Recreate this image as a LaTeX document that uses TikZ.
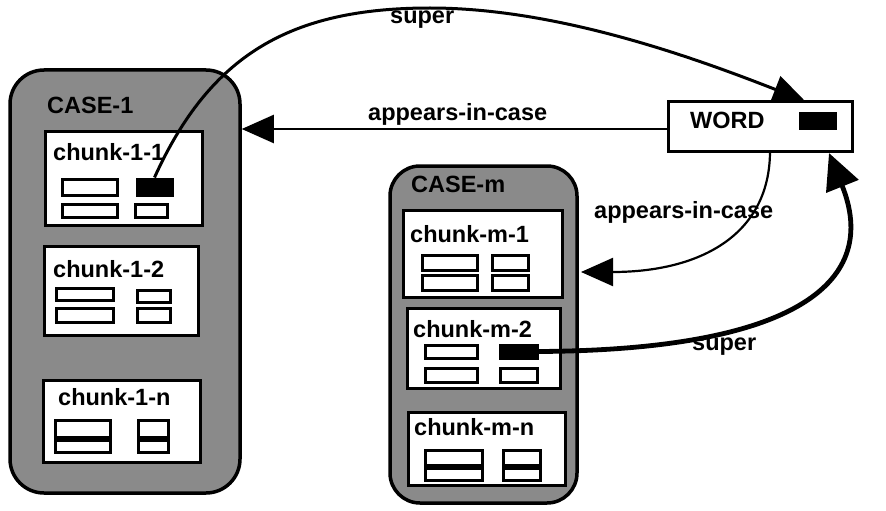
\documentclass[tikz,border=0pt]{standalone}
\usepackage{fontspec}
\setmainfont{Liberation Sans}
\usetikzlibrary{arrows.meta}
\tikzset{
  casebox/.style={draw, line width=3.5pt, fill=black!46, rounded corners=34pt},
  chunkbox/.style={draw, line width=3pt, fill=white, inner sep=0pt},
  slot/.style={draw, line width=3pt, fill=white, inner sep=0pt},
  fullslot/.style={slot, fill=black},
  lbl/.style={font=\bfseries\fontsize{23.5}{26}\selectfont, inner sep=0pt, anchor=base west},
  link/.style={line width=2.2pt, -{Triangle[length=32pt,width=28pt]}},
}
\begin{document}
\begin{tikzpicture}[x=1pt,y=-1pt]
      \useasboundingbox (0,0) rectangle (886,511);
      \draw
        (125,281.5) node[casebox, minimum width=230pt, minimum height=423pt] (case1) {}
        (483.5,334.5) node[casebox, rounded corners=30pt, minimum width=187pt, minimum height=337pt] (casem) {}
        (760,126) node[chunkbox, minimum width=184pt, minimum height=50pt] (word) {}
        (47,113) node[lbl] (case1lbl) {CASE-1}
        (411,192) node[lbl] (casemlbl) {CASE-m}
        (690,128) node[lbl] (wordlbl) {WORD}
        (817.5,120.5) node[fullslot, minimum width=35pt, minimum height=15pt] (wslot) {};
      % chunks of CASE-1
      \draw
        (123.5,178) node[chunkbox, minimum width=157pt, minimum height=94pt] (c11) {}
        (121,290.5) node[chunkbox, minimum width=154pt, minimum height=89pt] (c12) {}
        (121.5,421) node[chunkbox, minimum width=157pt, minimum height=82pt] (c1n) {}
        (53,160) node[lbl] (c11lbl) {chunk-1-1}
        (53,277) node[lbl] (c12lbl) {chunk-1-2}
        (58,405) node[lbl] (c1nlbl) {chunk-1-n}
        (89.5,187) node[slot, minimum width=55pt, minimum height=16pt] (s11a) {}
        (154.5,187) node[fullslot, minimum width=35pt, minimum height=16pt] (s11b) {}
        (89.5,210.5) node[slot, minimum width=55pt, minimum height=13pt] (s11c) {}
        (151,210.5) node[slot, minimum width=32pt, minimum height=13pt] (s11d) {}
        (84.5,294.5) node[slot, minimum width=57pt, minimum height=12pt] (s12a) {}
        (153.5,296) node[slot, minimum width=33pt, minimum height=12pt] (s12b) {}
        (84.5,315) node[slot, minimum width=57pt, minimum height=14pt] (s12c) {}
        (153.5,315) node[slot, minimum width=33pt, minimum height=14pt] (s12d) {}
        (82.5,428.5) node[slot, minimum width=55pt, minimum height=17pt] (s1na) {}
        (153,428.5) node[slot, minimum width=30pt, minimum height=17pt] (s1nb) {}
        (82.5,446) node[slot, minimum width=55pt, minimum height=12pt] (s1nc) {}
        (153,446) node[slot, minimum width=30pt, minimum height=12pt] (s1nd) {};
      % chunks of CASE-m
      \draw
        (482.5,253.5) node[chunkbox, minimum width=159pt, minimum height=87pt] (cm1) {}
        (483.5,348) node[chunkbox, minimum width=153pt, minimum height=80pt] (cm2) {}
        (486.5,448.5) node[chunkbox, minimum width=157pt, minimum height=73pt] (cmn) {}
        (410,242) node[lbl] (cm1lbl) {chunk-m-1}
        (413,337) node[lbl] (cm2lbl) {chunk-m-2}
        (414,435) node[lbl] (cmnlbl) {chunk-m-n}
        (449.5,262.5) node[slot, minimum width=55pt, minimum height=15pt] (sm1a) {}
        (510,262.5) node[slot, minimum width=36pt, minimum height=15pt] (sm1b) {}
        (449.5,282.5) node[slot, minimum width=55pt, minimum height=15pt] (sm1c) {}
        (510,282.5) node[slot, minimum width=36pt, minimum height=15pt] (sm1d) {}
        (451,351.5) node[slot, minimum width=52pt, minimum height=13pt] (sm2a) {}
        (518.5,351.5) node[fullslot, minimum width=37pt, minimum height=13pt] (sm2b) {}
        (451,375) node[slot, minimum width=52pt, minimum height=14pt] (sm2c) {}
        (518.5,375) node[slot, minimum width=37pt, minimum height=14pt] (sm2d) {}
        (453.5,457.5) node[slot, minimum width=57pt, minimum height=15pt] (smna) {}
        (521.5,457.5) node[slot, minimum width=37pt, minimum height=15pt] (smnb) {}
        (453.5,474) node[slot, minimum width=57pt, minimum height=12pt] (smnc) {}
        (521.5,474) node[slot, minimum width=37pt, minimum height=12pt] (smnd) {};
      \coordinate (wtop) at (805,101);
      \coordinate (wbot) at (770,151);
      \coordinate (wbr) at (829,153);
      \coordinate (mtip) at (581,272);
      \begin{scope}[link]
        \draw ([yshift=-3pt]word.west) -- ([yshift=-3pt]word.west -| case1.east);
        \draw[line width=3pt] (s11b.north) .. controls (210,55) and (290,8) .. (430,8)
          .. controls (560,8) and (700,60) .. (wtop);
        \draw (wbot) .. controls (770,235) and (700,272) .. (mtip);
        \draw[line width=4.8pt, -{Triangle[length=36pt,width=34pt]}] (sm2b.east) .. controls (800,350) and (880,280) .. (wbr);
      \end{scope}
      \draw
        (390,24) node[lbl] (super1) {super}
        (368,120) node[lbl] (appears1) {appears-in-case}
        (594,218) node[lbl] (appears2) {appears-in-case}
        (692,350) node[lbl] (super2) {super};
    \end{tikzpicture}
\end{document}
